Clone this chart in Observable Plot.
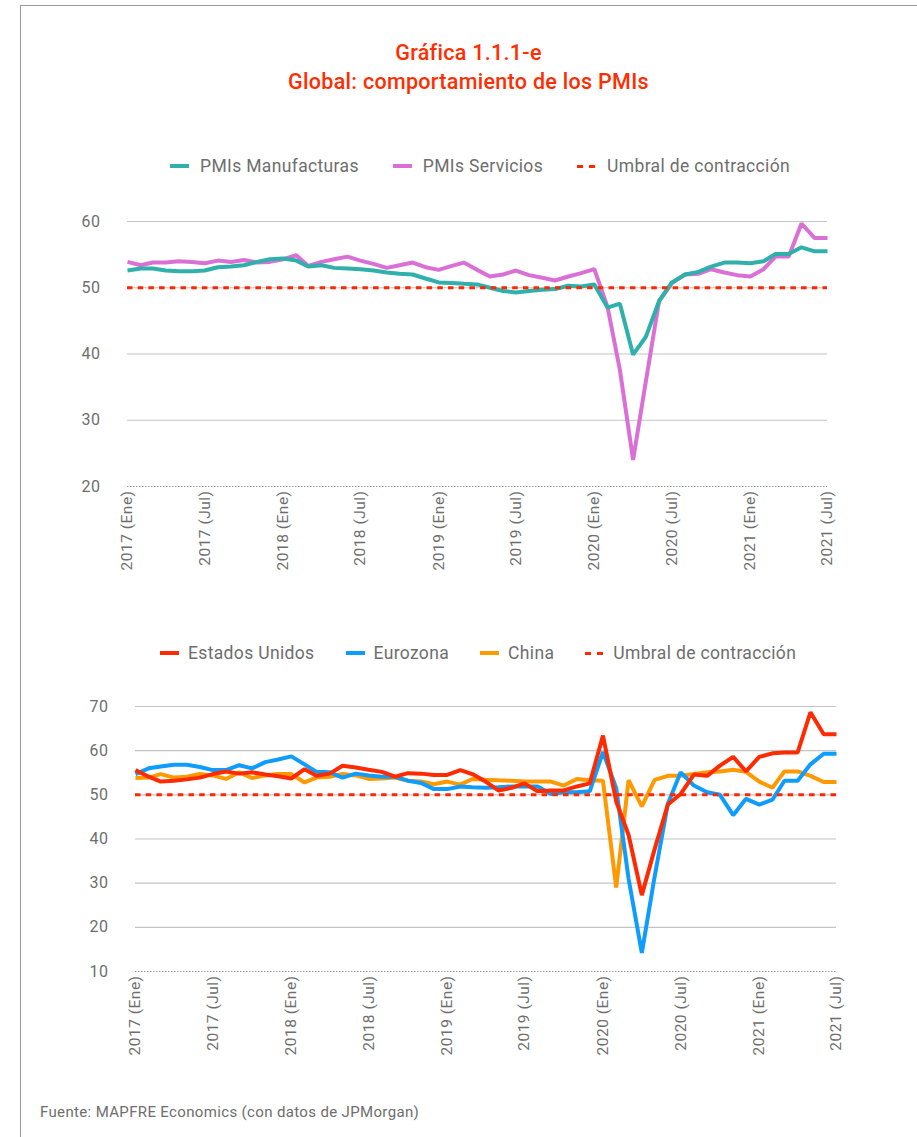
<!DOCTYPE html>
<html><head><meta charset="utf-8">
<script src="https://cdn.jsdelivr.net/npm/d3@7"></script>
<script src="https://cdn.jsdelivr.net/npm/@observablehq/plot@0.6"></script>
<style>
body{margin:0;background:#fff;font-family:Roboto,"Open Sans",sans-serif;}
#page{position:relative;width:917px;height:1137px;overflow:hidden;background:#fff;}
#frame{position:absolute;left:20px;top:5px;width:1000px;height:1300px;border-left:1.5px solid #9a9a9a;border-top:1.5px solid #9a9a9a;}
.title{position:absolute;left:20px;width:897px;text-align:center;color:#ff2d00;font-size:21.5px;font-weight:500;line-height:28px;letter-spacing:0.3px;}
.legend{position:absolute;display:flex;align-items:center;color:#6e6e6e;font-size:17.5px;letter-spacing:0.35px;white-space:nowrap;}
.item{display:flex;align-items:center;margin-right:34px;}
#leg2 .item{margin-right:31px;}
#leg2 .sw,#leg2 .dash{margin-right:9px;}
.sw{width:19px;height:4px;margin-right:11px;}
.dash{width:19px;height:3px;margin-right:11px;background:linear-gradient(90deg,#ff2600 0 6px,transparent 6px 12px,#ff2600 12px 18px,transparent 18px);}
.chart{position:absolute;left:0;}
#foot{position:absolute;left:40px;top:1103px;color:#6e6e6e;font-size:15px;letter-spacing:0.35px;}
</style></head>
<body>
<div id="page">
<div id="frame"></div>
<div class="title" style="top:39px">Gráfica 1.1.1-e</div>
<div class="title" style="top:68px">Global: comportamiento de los PMIs</div>
<div class="legend" style="left:170px;top:156px">
 <div class="item"><div class="sw" style="background:#2fb0aa"></div>PMIs Manufacturas</div>
 <div class="item"><div class="sw" style="background:#da70d6"></div>PMIs Servicios</div>
 <div class="item"><div class="dash"></div>Umbral de contracción</div>
</div>
<div id="c1" class="chart" style="top:200px"></div>
<div id="leg2" class="legend" style="left:160px;top:643px">
 <div class="item"><div class="sw" style="background:#ff2a00"></div>Estados Unidos</div>
 <div class="item"><div class="sw" style="background:#0f9cff"></div>Eurozona</div>
 <div class="item"><div class="sw" style="background:#ff9900"></div>China</div>
 <div class="item"><div class="dash"></div>Umbral de contracción</div>
</div>
<div id="c2" class="chart" style="top:690px"></div>
<div id="foot">Fuente: MAPFRE Economics (con datos de JPMorgan)</div>
</div>
<script>
// Monthly categories: 2017 (Ene) ... 2021 (Jul)
const startDate = new Date(Date.UTC(2017,0,1));
const endDate = new Date(Date.UTC(2021,6,1));
const months = d3.utcMonth.range(startDate, new Date(Date.UTC(2021,7,1)));
const monthNames = ["Ene","Jul"];

// Chart 1: global PMIs
const manufacturas = [
 52.6,52.9,52.9,52.6,52.5,52.5,52.6,53.1,53.2,53.4,53.9,54.3,
 54.4,54.1,53.2,53.4,53.0,52.9,52.8,52.6,52.3,52.1,52.0,51.4,
 50.8,50.7,50.6,50.5,50.0,49.5,49.3,49.5,49.7,49.8,50.3,50.2,
 50.5,47.0,47.6,39.9,42.6,48.0,50.8,52.0,52.4,53.2,53.8,53.8,
 53.7,54.0,55.1,55.1,56.1,55.5,55.5];
const servicios = [
 53.9,53.4,53.8,53.8,54.0,53.9,53.7,54.1,53.9,54.2,53.8,53.9,
 54.3,54.9,53.3,53.9,54.3,54.7,54.1,53.6,53.0,53.4,53.8,53.1,
 52.7,53.3,53.8,52.7,51.7,52.0,52.6,51.9,51.5,51.1,51.7,52.2,
 52.8,47.1,37.6,24.0,35.9,48.0,50.7,52.0,52.1,52.8,52.3,51.9,
 51.7,52.8,54.7,54.7,59.7,57.5,57.5];

// Chart 2: by region
const estadosUnidos = [
 55.6,54.1,53.0,53.2,53.5,53.9,54.7,55.3,54.8,55.1,54.6,54.2,
 53.7,55.8,54.3,54.8,56.6,56.2,55.7,55.2,54.1,54.9,54.8,54.5,
 54.5,55.6,54.7,53.0,51.0,51.6,52.6,50.8,51.0,51.0,51.9,52.6,
 63.4,48.5,40.9,27.3,37.7,47.8,50.2,54.6,54.3,56.6,58.6,55.3,
 58.6,59.4,59.6,59.6,68.7,63.7,63.7];
const eurozona = [
 54.7,56.0,56.4,56.8,56.8,56.3,55.6,55.6,56.7,56.0,57.4,58.0,
 58.7,56.9,55.2,55.1,53.9,54.8,54.4,54.1,54.1,53.2,52.7,51.3,
 51.3,51.9,51.7,51.6,51.7,51.9,51.9,51.9,50.2,50.6,50.6,50.8,
 59.7,51.5,31.0,14.2,31.5,48.0,55.1,52.1,50.6,50.0,45.4,49.1,
 47.8,48.9,53.2,53.2,56.9,59.3,59.3];
const china = [
 53.8,53.9,54.7,53.9,54.1,54.7,54.4,53.6,55.1,53.8,54.4,54.7,
 54.7,52.8,53.9,54.1,54.7,54.4,53.6,53.7,53.9,53.2,53.0,52.4,
 53.0,52.3,53.6,53.4,53.3,53.2,53.0,53.0,53.0,52.1,53.6,53.3,
 53.2,29.0,53.3,47.4,53.4,54.3,54.3,54.7,55.1,55.3,55.7,55.2,
 53.0,51.6,55.3,55.3,54.3,52.9,52.9];

const umbral = 50;
const yTicks1 = [20,30,40,50,60];
const yTicks2 = [10,20,30,40,50,60,70];

const toRows = arr => months.map((d,i)=>({date:d, value:arr[i]}));
const fmt = d => `${d.getUTCFullYear()} (${d.getUTCMonth()===0?monthNames[0]:monthNames[1]})`;
const tickDates = d3.utcMonth.every(6).range(startDate, new Date(Date.UTC(2021,7,1)));

function chart({series, yDomain, yTicks, marginTop, marginBottom, marginLeft, marginRight, height}) {
  const grid = yTicks.slice(1);
  return Plot.plot({
    width: 917, height, marginTop, marginBottom, marginLeft, marginRight,
    style: {fontFamily: "Roboto, sans-serif", color: "#6e6e6e", background: "transparent", letterSpacing: "0.5px"},
    x: {type: "utc", domain: [startDate, endDate]},
    y: {domain: yDomain},
    marks: [
      Plot.ruleY(grid, {stroke: "#c4c4c4", strokeWidth: 1.2}),
      Plot.ruleY([yDomain[0]], {stroke: "#9a9a9a", strokeWidth: 1, strokeDasharray: "1.5,1.5"}),
      ...series.map(s => Plot.line(toRows(s.values), {x: "date", y: "value", stroke: s.color, strokeWidth: 4, strokeLinejoin: "miter", strokeLinecap: "butt"})),
      Plot.ruleY([umbral], {stroke: "#ff2600", strokeWidth: 3, strokeDasharray: "5.5,5.2"}),
      Plot.axisY({ticks: yTicks, tickSize: 0, tickPadding: 27, fontSize: 16, label: null}),
      Plot.axisX({ticks: tickDates, tickFormat: fmt, tickRotate: -90, tickSize: 0, tickPadding: 4, fontSize: 15.5, label: null})
    ]
  });
}

document.getElementById("c1").append(chart({
  series: [{values: servicios, color: "#da70d6"}, {values: manufacturas, color: "#2fb0aa"}],
  yDomain: [20,60], yTicks: yTicks1, height: 390, marginTop: 21, marginBottom: 104, marginLeft: 127, marginRight: 90
}));
document.getElementById("c2").append(chart({
  series: [{values: china, color: "#ff9900"}, {values: eurozona, color: "#0f9cff"}, {values: estadosUnidos, color: "#ff2a00"}],
  yDomain: [10,70], yTicks: yTicks2, height: 380, marginTop: 16, marginBottom: 99, marginLeft: 135, marginRight: 81
}));
</script>
</body></html>
